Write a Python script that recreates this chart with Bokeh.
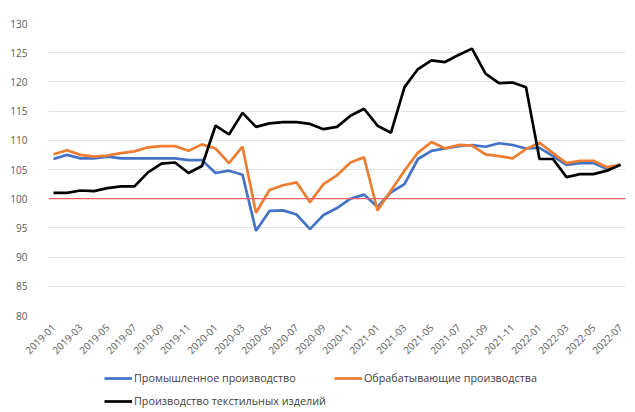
import math
from bokeh.plotting import figure
from bokeh.layouts import column
from bokeh.models import Span, Legend, LegendItem, FixedTicker, ColumnDataSource, Range1d
from bokeh.embed import file_html
from bokeh.resources import INLINE

months = [f"{y}-{m:02d}" for y in (2019, 2020, 2021, 2022) for m in range(1, 13)][:43]

industrial = [106.8, 107.5, 106.9, 106.9, 107.2, 106.9, 106.9, 106.9, 106.9, 106.9, 106.6, 106.6,
              104.4, 104.8, 104.1, 94.5, 97.9, 98.0, 97.3, 94.8, 97.2, 98.4, 100.0, 100.7,
              98.6, 101.1, 102.5, 106.8, 108.2, 108.6, 109.0, 109.2, 108.9, 109.5, 109.2, 108.6,
              108.7, 107.3, 105.8, 106.1, 106.1, 105.1, 105.8]
manufacturing = [107.6, 108.3, 107.5, 107.2, 107.4, 107.8, 108.1, 108.8, 109.0, 109.0, 108.2, 109.3,
                 108.6, 106.1, 108.9, 97.6, 101.5, 102.3, 102.8, 99.4, 102.5, 104.0, 106.2, 107.1,
                 98.0, 101.4, 104.8, 107.9, 109.7, 108.6, 109.2, 109.1, 107.6, 107.3, 106.9, 108.5,
                 109.6, 107.8, 106.1, 106.5, 106.5, 105.4, 105.8]
textile = [101.0, 101.0, 101.4, 101.3, 101.8, 102.1, 102.1, 104.5, 106.0, 106.2, 104.4, 105.6,
           112.5, 111.0, 114.7, 112.3, 112.9, 113.1, 113.1, 112.8, 111.9, 112.3, 114.2, 115.4,
           112.5, 111.3, 119.1, 122.2, 123.7, 123.4, 124.6, 125.7, 121.4, 119.8, 119.9, 119.1,
           106.8, 106.8, 103.7, 104.2, 104.2, 104.8, 105.8]

series_names = ["Промышленное производство", "Обрабатывающие производства", "Производство текстильных изделий"]
series_colors = ["#4472C4", "#ED7D31", "#000000"]
y_ticks = [80, 85, 90, 95, 100, 105, 110, 115, 120, 125, 130]

x = list(range(len(months)))
src = ColumnDataSource(dict(x=x, ind=industrial, man=manufacturing, tex=textile))
cols = ["ind", "man", "tex"]

FONT = "Open Sans"
W = 627
p = figure(width=W, height=360, output_backend="svg", toolbar_location=None,
           x_range=(-0.37, len(months) - 1 + 0.37), y_range=(80, 130),
           min_border_left=48, min_border_right=2, min_border_top=23, min_border_bottom=42)
p.outline_line_color = None
p.background_fill_color = "white"
p.border_fill_color = "white"

p.xgrid.grid_line_color = None
p.ygrid.grid_line_color = "#e3e3e3"
p.ygrid.grid_line_width = 1

p.yaxis.ticker = FixedTicker(ticks=y_ticks)
p.xaxis.ticker = FixedTicker(ticks=x[::2])
p.xaxis.major_label_overrides = {i: months[i] for i in x[::2]}
p.xaxis.major_label_orientation = math.pi / 4
for ax in (p.xaxis, p.yaxis):
    ax.axis_line_color = None
    ax.major_tick_line_color = None
    ax.minor_tick_line_color = None
    ax.major_label_text_font = FONT
    ax.major_label_text_font_size = "10px"
    ax.major_label_text_color = "#595959"
p.xaxis.major_label_standoff = 4
p.yaxis.major_label_standoff = 15

p.add_layout(Span(location=100, dimension="width", line_color="#e8606a", line_width=1.2))

for col, color in zip(cols, series_colors):
    p.line("x", col, source=src, line_color=color, line_width=2.7)

# legend panel: same series drawn outside its visible range, only the legend shows
lg = figure(width=W, height=52, output_backend="svg", toolbar_location=None,
            x_range=Range1d(0, 1), y_range=Range1d(0, 1),
            min_border_left=0, min_border_right=0, min_border_top=0, min_border_bottom=0)
lg.axis.visible = False
lg.grid.visible = False
lg.outline_line_color = None
lg.border_fill_color = "white"
leg_rends = [lg.line("x", c, source=src, line_color=color, line_width=2.7)
             for c, color in zip(cols, series_colors)]
# column-major grid: column 1 = items 1 and 3, column 2 = item 2
order = [0, 2, 1]
legend = Legend(items=[LegendItem(label=series_names[i], renderers=[leg_rends[i]]) for i in order],
                ncols=2, location=(56, 4),
                label_text_font=FONT, label_text_font_size="10.8px", label_text_color="#404040",
                glyph_width=28, glyph_height=12, label_height=15, label_standoff=2, spacing=8,
                border_line_color=None, background_fill_alpha=0,
                padding=2, margin=0)
lg.add_layout(legend, "center")

layout = column(p, lg, spacing=0)
open("out.html", "w").write(file_html(layout, INLINE))
